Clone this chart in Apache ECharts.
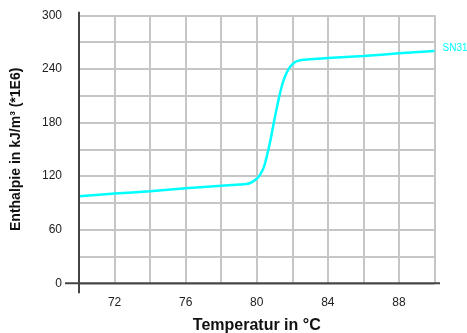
<!DOCTYPE html>
<html>
<head>
<meta charset="utf-8">
<script src="https://cdn.jsdelivr.net/npm/echarts@6/dist/echarts.min.js"></script>
<style>
  html, body { margin: 0; padding: 0; background: #fff; }
  #chart { width: 467px; height: 333px; }
</style>
</head>
<body>
<div id="chart"></div>
<script>
// Enthalpy curve of sample SN31 across its melting range
const seriesName = 'SN31';
const temperatures = [70, 72, 74, 76, 78, 79, 79.6, 80, 80.2, 80.4, 80.6, 80.8, 81, 81.2, 81.4, 81.6, 81.8, 82, 82.3, 83, 84, 86, 88, 90];
const enthalpies = [97.5, 100.5, 103, 106.3, 109.3, 110.5, 112, 117, 122, 130, 145, 163, 184, 203, 220, 232, 240, 245, 249, 250.7, 252.2, 254.4, 257.4, 260];

const xLabelValues = [72, 76, 80, 84, 88];
const yLabelValues = [0, 60, 120, 180, 240, 300];

const points = temperatures.map((t, i) => [t, enthalpies[i]]);

const chart = echarts.init(document.getElementById('chart'), null, { renderer: 'canvas' });

const labelFont = { fontFamily: 'Liberation Sans, Arial, sans-serif', fontSize: 12, color: '#222' };

chart.setOption({
  animation: false,
  backgroundColor: '#fff',
  grid: { left: 79, right: 32.5, top: 15.3, bottom: 49.7, containLabel: false, outerBoundsMode: 'none' },
  xAxis: {
    type: 'value', min: 70, max: 90, interval: 2,
    name: 'Temperatur in °C', nameLocation: 'middle', nameGap: 34,
    nameTextStyle: { fontFamily: 'Liberation Sans, Arial, sans-serif', fontSize: 16, fontWeight: 'bold', color: '#111' },
    axisLine: { show: false },
    axisTick: { show: false },
    axisLabel: Object.assign({ margin: 13, formatter: v => xLabelValues.includes(v) ? String(v) : '' }, labelFont),
    splitLine: { show: true, lineStyle: { color: '#c6c6c6', width: 2 } }
  },
  yAxis: {
    type: 'value', min: 0, max: 300, interval: 30,
    name: 'Enthalpie in kJ/m³ (*1E6)', nameLocation: 'middle', nameGap: 56, nameRotate: 90,
    nameTextStyle: { fontFamily: 'Liberation Sans, Arial, sans-serif', fontSize: 14, fontWeight: 'bold', color: '#111' },
    axisLine: { show: false },
    axisTick: { show: false },
    axisLabel: Object.assign({ margin: 17, formatter: v => yLabelValues.includes(v) ? String(v) : '' }, labelFont),
    splitLine: { show: true, lineStyle: { color: '#c6c6c6', width: 2 } }
  },
  series: [{
    name: seriesName,
    type: 'line',
    data: points,
    smooth: 0.3,
    showSymbol: false,
    lineStyle: { color: '#00ffff', width: 2.5 },
    endLabel: {
      show: true,
      formatter: '{a}',
      color: '#00ffff',
      fontFamily: 'Liberation Sans, Arial, sans-serif',
      fontSize: 10,
      distance: 8,
      offset: [0, -3]
    }
  }]
});

// Dark axis lines that run slightly past the plot area
const origin = chart.convertToPixel({ gridIndex: 0 }, [70, 0]);
const corner = chart.convertToPixel({ gridIndex: 0 }, [90, 300]);
chart.setOption({
  graphic: [
    { type: 'line', shape: { x1: origin[0], y1: corner[1] - 3.5, x2: origin[0], y2: origin[1] + 10 },
      style: { stroke: '#444', lineWidth: 2 }, z: 10 },
    { type: 'line', shape: { x1: origin[0] - 14, y1: origin[1], x2: corner[0] + 5.5, y2: origin[1] },
      style: { stroke: '#444', lineWidth: 2 }, z: 10 }
  ]
});
</script>
</body>
</html>
